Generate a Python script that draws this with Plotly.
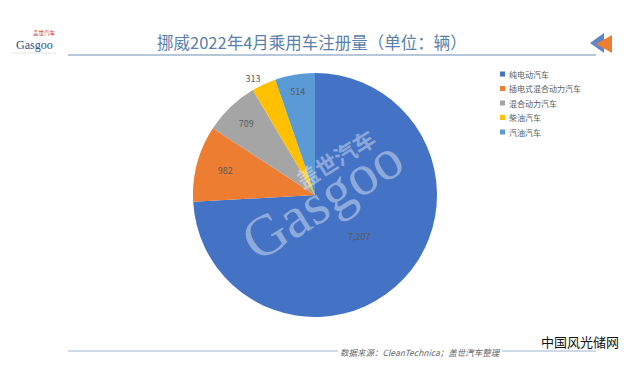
import plotly.graph_objects as go

categories = ["纯电动汽车", "插电式混合动力汽车", "混合动力汽车", "柴油汽车", "汽油汽车"]
values = [7207, 982, 709, 313, 514]
colors = ["#4472C4", "#ED7D31", "#A5A5A5", "#FFC000", "#5B9BD5"]
text_positions = ["inside", "inside", "inside", "outside", "inside"]

W, H = 624, 371
def px(x):
    return x / W
def py(y):
    return 1 - y / H

fig = go.Figure()
fig.add_trace(go.Pie(
    labels=categories,
    values=values,
    sort=False,
    direction="clockwise",
    rotation=0,
    marker=dict(colors=colors, line=dict(color="white", width=0)),
    texttemplate="%{value:,}",
    textposition=text_positions,
    insidetextorientation="horizontal",
    textfont=dict(family="Noto Sans CJK SC", size=9, color="#595959"),
    domain=dict(x=[px(193), px(437)], y=[py(317), py(73)]),
    hoverinfo="label+value",
    showlegend=False,
))

shapes = [
    dict(type="line", xref="paper", yref="paper", x0=px(68), x1=px(596), y0=py(55), y1=py(55),
         line=dict(color="#9DB4CC", width=1.5)),
    dict(type="line", xref="paper", yref="paper", x0=px(68), x1=px(338), y0=py(351), y1=py(351),
         line=dict(color="#9DB4CC", width=1)),
    dict(type="line", xref="paper", yref="paper", x0=px(502), x1=px(596), y0=py(351), y1=py(351),
         line=dict(color="#9DB4CC", width=1)),
    dict(type="path", xref="paper", yref="paper",
         path=f"M {px(590)} {py(43)} L {px(604)} {py(33)} L {px(604)} {py(53)} Z",
         fillcolor="#5E86C8", line=dict(width=0)),
    dict(type="path", xref="paper", yref="paper",
         path=f"M {px(596)} {py(44)} L {px(612)} {py(35)} L {px(612)} {py(53)} Z",
         fillcolor="#ED7D31", line=dict(width=0)),
    dict(type="line", xref="paper", yref="paper", x0=px(12), x1=px(56), y0=py(53), y1=py(53),
         line=dict(color="#C8C8C8", width=0.5)),
]

# legend built from the category / colour arrays
for i, (cat, col) in enumerate(zip(categories, colors)):
    yc = 74 + i * 14.5
    shapes.append(dict(type="rect", xref="paper", yref="paper",
                       x0=px(500), x1=px(505), y0=py(yc + 2.5), y1=py(yc - 2.5),
                       fillcolor=col, line=dict(width=0)))

annotations = [
    dict(text="挪威2022年4月乘用车注册量（单位：辆）", x=px(312), y=py(42), xref="paper", yref="paper",
         xanchor="center", yanchor="middle", showarrow=False,
         font=dict(family="Noto Sans CJK SC", size=16.5, color="#5A7FA8")),
    dict(text="盖世汽车", x=px(45), y=py(33), xref="paper", yref="paper", showarrow=False,
         xanchor="center", yanchor="middle",
         font=dict(family="Noto Sans CJK SC", size=5.5, color="#C0392B")),
    dict(text="Gasgoo", x=px(34), y=py(45), xref="paper", yref="paper", showarrow=False,
         xanchor="center", yanchor="middle",
         font=dict(family="Liberation Serif", size=12, color="#2C4E7A")),
    dict(text="<i>数据来源：CleanTechnica；盖世汽车整理</i>", x=px(420), y=py(352), xref="paper", yref="paper",
         xanchor="center", yanchor="middle", showarrow=False,
         font=dict(family="Noto Sans CJK SC", size=8.5, color="#666666")),
    dict(text="中国风光储网", x=px(580), y=py(341), xref="paper", yref="paper", showarrow=False,
         xanchor="center", yanchor="middle",
         font=dict(family="Noto Sans CJK SC", size=13, color="#111111")),
    dict(text="<b>盖世汽车</b>", x=px(335), y=py(158), xref="paper", yref="paper", showarrow=False,
         xanchor="center", yanchor="middle",
         textangle=-32, font=dict(family="Noto Sans CJK SC", size=22, color="rgba(255,255,255,0.4)")),
    dict(text="Gasgoo", x=px(322), y=py(200), xref="paper", yref="paper", showarrow=False,
         xanchor="center", yanchor="middle",
         textangle=-32, font=dict(family="Liberation Serif", size=58, color="rgba(255,255,255,0.4)")),
]

for i, cat in enumerate(categories):
    yc = 74 + i * 14.5
    annotations.append(dict(text=cat, x=px(507), y=py(yc), xref="paper", yref="paper",
                            xanchor="left", yanchor="middle", showarrow=False,
                            font=dict(family="Noto Sans CJK SC", size=8, color="#595959")))

fig.update_layout(
    width=W, height=H,
    margin=dict(l=0, r=0, t=0, b=0),
    paper_bgcolor="white",
    plot_bgcolor="white",
    shapes=shapes,
    annotations=annotations,
    showlegend=False,
)

fig.write_html("out.html", config={"displayModeBar": False},
               post_script="document.body.style.margin='0';document.body.style.overflow='hidden';")
